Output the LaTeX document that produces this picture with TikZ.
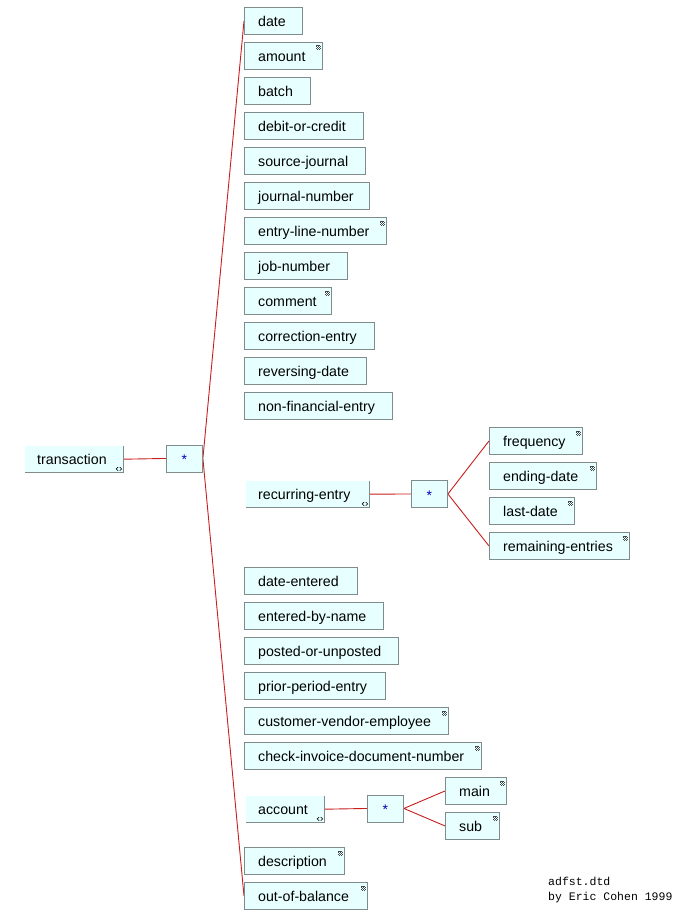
\documentclass[tikz,border=0pt]{standalone}
\usepackage{fontspec}
\setmainfont{Liberation Sans}
\newfontfamily\monofont{Liberation Mono}
\pgfdeclarelayer{background}
\pgfsetlayers{background,main}
\definecolor{boxfill}{RGB}{232,255,255}
\definecolor{boxline}{RGB}{128,140,140}
\definecolor{wirecol}{RGB}{200,30,30}
\definecolor{starcol}{RGB}{0,0,190}
\definecolor{iconcol}{RGB}{70,70,70}
\tikzset{
  elbox/.style={rectangle, fill=boxfill, draw=boxline, line width=0.9pt, minimum height=27pt, inner sep=0pt},
  elboxraised/.style={rectangle, fill=boxfill, minimum height=26pt, inner sep=0pt},
  eltext/.style={inner sep=0pt, font=\fontsize{14.2}{17}\selectfont, text=black},
  starbox/.style={rectangle, fill=boxfill, draw=boxline, line width=0.9pt, minimum width=36pt, minimum height=27pt, inner sep=0pt},
  startext/.style={inner sep=0pt, font=\fontsize{14}{16}\selectfont, text=starcol},
  wire/.style={draw=wirecol, line width=0.9pt},
  foot/.style={inner sep=0pt, font=\monofont\fontsize{11.5}{13}\selectfont, text=black}
}
\newcommand\elnode[6]{%
  \node[elbox, minimum width=#4pt, anchor=north west] (#1) at (#2,#3) {};
  \node[eltext, anchor=base west] (#1-t) at ([xshift=#6pt, yshift=-5.5pt]#1.west) {#5};
}
\newcommand\elraised[6]{%
  \node[elboxraised, minimum width=#4pt, anchor=north west] (#1) at (#2,#3) {};
  \draw[boxline, line width=0.9pt] (#1.north east) -- (#1.south east) -- (#1.south west);
  \node[eltext, anchor=base west] (#1-t) at ([xshift=#6pt, yshift=-5.5pt]#1.west) {#5};
  \begin{scope}[shift={([xshift=-4.5pt,yshift=3.5pt]#1.south east)}]
    \draw[black, line width=0.6pt] (-0.8,-1.8) -- (-2.8,0) -- (-0.8,1.8);
    \draw[black, line width=0.6pt] (0.8,-1.8) -- (2.8,0) -- (0.8,1.8);
  \end{scope}
}
\newcommand\starnode[3]{%
  \node[starbox, anchor=north west] (#1) at (#2,#3) {};
  \node[startext] (#1-t) at ([yshift=-1.5pt]#1.center) {*};
}
\newcommand\leafmark[1]{%
  \begin{scope}[shift={([xshift=-6.5pt,yshift=-3.5pt]#1.north east)}]
    \foreach \c/\r in {0/0,1/0,2/0,3/0,0/1,2/1,4/1,1/2,3/2,0/3,2/3,4/3,1/4,3/4}
      \fill[iconcol] (\c,\r) rectangle ++(1,1);
  \end{scope}
}
\begin{document}
\begin{tikzpicture}[x=1pt,y=-1pt]
\useasboundingbox (0,0) rectangle (688,912);
\begin{pgfonlayer}{background}
  \fill[white] (0,0) rectangle (688,912);
\end{pgfonlayer}

% root
\elraised{transaction}{25}{446}{98}{transaction}{12}
\starnode{s1}{166}{444.5}

% first group
\elnode{date}{244}{7}{58}{date}{14}
\elnode{amount}{244}{42}{78}{amount}{14}\leafmark{amount}
\elnode{batch}{244}{77}{66}{batch}{14}
\elnode{debit}{244}{112}{119}{debit-or-credit}{14}
\elnode{source}{244}{147}{121}{source-journal}{14}
\elnode{journal}{244}{182}{125}{journal-number}{14}
\elnode{entryline}{244}{217}{142}{entry-line-number}{14}\leafmark{entryline}
\elnode{job}{244}{252}{103}{job-number}{14}
\elnode{comment}{244}{287}{87}{comment}{14}\leafmark{comment}
\elnode{correction}{244}{322}{130}{correction-entry}{14}
\elnode{reversing}{244}{357}{122}{reversing-date}{14}
\elnode{nonfin}{244}{392}{148}{non-financial-entry}{14}

% recurring-entry
\elraised{recurring}{246}{481}{123}{recurring-entry}{12}
\starnode{s3}{411}{480}
\elnode{frequency}{489}{427}{93}{frequency}{14}\leafmark{frequency}
\elnode{ending}{489}{462}{107}{ending-date}{14}\leafmark{ending}
\elnode{lastdate}{489}{497}{85}{last-date}{14}\leafmark{lastdate}
\elnode{remaining}{489}{532}{140}{remaining-entries}{14}\leafmark{remaining}

% second group
\elnode{dateentered}{244}{567}{113}{date-entered}{14}
\elnode{enteredby}{244}{602}{139}{entered-by-name}{14}
\elnode{posted}{244}{637}{154}{posted-or-unposted}{14}
\elnode{prior}{244}{672}{141}{prior-period-entry}{14}
\elnode{customer}{244}{707}{204}{customer-vendor-employee}{14}\leafmark{customer}
\elnode{check}{244}{742}{237}{check-invoice-document-number}{14}\leafmark{check}

% account
\elraised{account}{246}{796}{78}{account}{12}
\starnode{s2}{367}{794.5}
\elnode{main}{445}{777}{61}{main}{14}\leafmark{main}
\elnode{sub}{445}{812}{54}{sub}{14}\leafmark{sub}

\elnode{description}{244}{847}{100}{description}{14}\leafmark{description}
\elnode{outofbalance}{244}{882}{123}{out-of-balance}{14}\leafmark{outofbalance}

% footer
\node[foot, anchor=base west] (foot1) at (548,885.7) {adfst.dtd};
\node[foot, anchor=base west] (foot2) at (548,900) {by Eric Cohen 1999};

% connectors: sequence brackets to first and last child
\begin{pgfonlayer}{background}
  \draw[wire] (transaction.east) -- (s1.west);
  \draw[wire] (date.west) -- (s1.east) -- (outofbalance.west);
  \draw[wire] (recurring.east) -- (s3.west);
  \draw[wire] (frequency.west) -- (s3.east) -- (remaining.west);
  \draw[wire] (account.east) -- (s2.west);
  \draw[wire] (main.west) -- (s2.east) -- (sub.west);
\end{pgfonlayer}
\end{tikzpicture}
\end{document}
